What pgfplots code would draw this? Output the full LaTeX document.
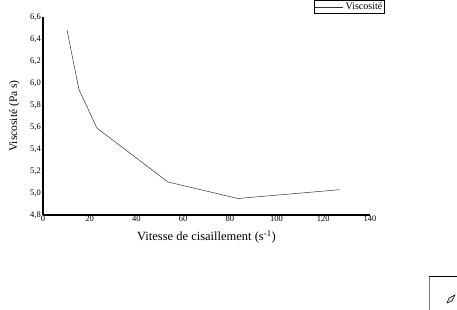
\documentclass[border=0pt]{standalone}
\usepackage{fontspec}
\setmainfont{Liberation Serif}
\usepackage{pgfplots}
\pgfplotsset{compat=1.18}
\begin{document}
\begin{tikzpicture}[x=1pt,y=1pt]
\useasboundingbox (0,0) rectangle (457,310);
\begin{axis}[
  at={(43pt,95pt)}, anchor=south west,
  scale only axis, width=327pt, height=198pt,
  xmin=0, xmax=140, ymin=4.8, ymax=6.6,
  axis x line*=bottom, axis y line*=left,
  axis line style={line width=1.2pt, -},
  xtick={0,20,...,140},
  ytick={4.8,5.0,...,6.6},
  major tick length=0pt,
  /pgf/number format/assume math mode=true,
  /pgf/number format/use comma,
  /pgf/number format/fixed,
  /pgf/number format/fixed zerofill,
  yticklabel style={/pgf/number format/precision=1, font=\fontsize{8.5}{8.5}\selectfont, inner sep=1pt, xshift=-1pt},
  xticklabel style={/pgf/number format/precision=0, font=\fontsize{8.5}{8.5}\selectfont, inner sep=1pt},
  xlabel={Vitesse de cisaillement (s\textsuperscript{-1})},
  ylabel={Viscosité (Pa s)},
  xlabel style={font=\fontsize{12.5}{12.5}\selectfont, yshift=-4pt},
  ylabel style={font=\fontsize{11.5}{11.5}\selectfont, yshift=6pt},
  legend style={at={(1.046,1.086)}, anchor=north east, draw=black, line width=0.6pt,
    font=\fontsize{10}{10}\selectfont, inner sep=0.5pt, row sep=-1pt},
  legend image code/.code={\draw[#1] (0pt,0pt) -- (28pt,0pt);},
  legend cell align=left,
]
\addplot[black!80, line width=0.5pt] coordinates {
  (10.3,6.48) (15.4,5.94) (23.1,5.59) (53.5,5.10) (83.5,4.95) (127,5.03)
};
\addlegendentry{Viscosité}
\end{axis}
\draw[gray, line width=1pt] (429,0) -- (429,34);
\draw[black, line width=0.8pt] (429,34) -- (457,34);
\draw[black, line width=0.5pt, fill=gray!30] (447,7) -- (449,12) -- (455,15) -- (452,9) -- cycle;
\end{tikzpicture}
\end{document}
